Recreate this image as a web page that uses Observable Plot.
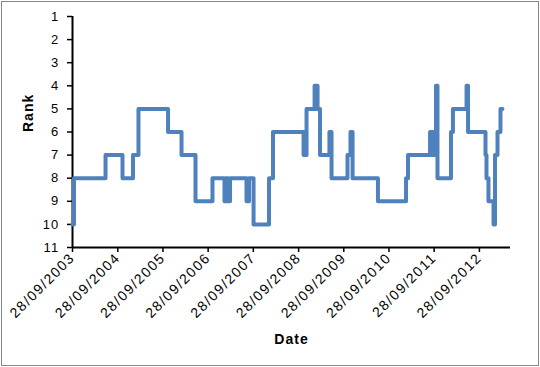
<!DOCTYPE html>
<html>
<head>
<meta charset="utf-8">
<script src="https://cdn.jsdelivr.net/npm/d3@7"></script>
<script src="https://cdn.jsdelivr.net/npm/@observablehq/plot@0.6"></script>
<style>
  html, body { margin: 0; padding: 0; background: #fff; }
  #chart svg { display: block; outline: 1px solid #878787; outline-offset: -2px; }
  #chart svg g[aria-label="x-axis tick label"] { letter-spacing: 1.5px; }
  #chart svg g[aria-label="y-axis tick label"] { letter-spacing: 1.2px; }
  #chart svg g[aria-label="text"] { letter-spacing: 1px; }
</style>
</head>
<body>
<div id="chart"></div>
<script>
// Step changes of rank (date where a new rank begins)
const dates = ["2003-09-28","2003-10-10","2004-06-21","2004-11-05","2005-01-29","2005-03-14","2005-11-08","2006-02-25","2006-06-18","2006-11-02",
  "2007-02-07","2007-02-23","2007-03-07","2007-03-24","2007-08-04","2007-08-24","2007-09-30","2008-02-02","2008-03-05","2008-11-07",
  "2008-12-01","2009-02-04","2009-02-28","2009-03-20","2009-06-04","2009-06-21","2009-10-28","2009-11-21","2009-12-08","2010-07-01",
  "2011-02-13","2011-03-01","2011-08-26","2011-09-07","2011-09-15","2011-10-01","2011-10-13","2011-10-25","2012-02-11","2012-02-27",
  "2012-06-16","2012-06-28","2012-11-16","2012-11-24","2012-12-10","2013-01-20","2013-02-01","2013-02-21","2013-03-17","2013-04-02"];
const ranks = [10,8,7,8,7,5,6,7,9,8,
  9,8,9,8,9,8,10,8,6,7,
  5,4,5,7,6,8,7,6,8,9,
  8,7,6,7,6,7,4,8,6,5,
  4,6,7,8,9,10,7,6,5,5];
const xTickDates = ["2003-09-28","2004-09-28","2005-09-28","2006-09-28","2007-09-28","2008-09-28","2009-09-28","2010-09-28","2011-09-28","2012-09-28"];
const yTicks = [1,2,3,4,5,6,7,8,9,10,11];
const xDomain = ["2003-09-28","2013-06-06"];
const yDomain = [1, 11];

const data = dates.map((d, i) => ({date: new Date(d), rank: ranks[i]}));
const fmt = d3.utcFormat("%d/%m/%Y");

const chart = Plot.plot({
  width: 540,
  height: 367,
  marginTop: 16,
  marginBottom: 120,
  marginLeft: 72,
  marginRight: 30,
  style: {fontFamily: "'Liberation Sans', Arial, sans-serif", fontSize: "13px", color: "#000", background: "#fff"},
  x: {type: "utc", domain: xDomain.map(d => new Date(d))},
  y: {domain: yDomain, reverse: true},
  marks: [
    Plot.axisY({ticks: yTicks, tickSize: 5, tickPadding: 8, stroke: "#000", strokeWidth: 1.5, fill: "#000", label: null, fontSize: 13, tickFormat: d => d}),
    Plot.axisX({ticks: xTickDates.map(d => new Date(d)), tickFormat: fmt, tickRotate: -45, tickSize: 5, tickPadding: 3, stroke: "#000", strokeWidth: 1.5, fill: "#000", label: null, fontSize: 14}),
    Plot.ruleX([new Date(xDomain[0])], {stroke: "#000", strokeWidth: 2}),
    Plot.ruleY([11], {stroke: "#000", strokeWidth: 2}),
    Plot.line(data, {x: "date", y: "rank", curve: "step-after", stroke: "#4F81BD", strokeWidth: 4, strokeLinejoin: "round"}),
    Plot.text(["Rank"], {frameAnchor: "left", dx: -44, rotate: -90, fill: "#000", fontWeight: "bold", fontSize: 14}),
    Plot.text(["Date"], {frameAnchor: "bottom", dy: 96, fill: "#000", fontWeight: "bold", fontSize: 14})
  ]
});
document.getElementById("chart").appendChild(chart);
</script>
</body>
</html>
